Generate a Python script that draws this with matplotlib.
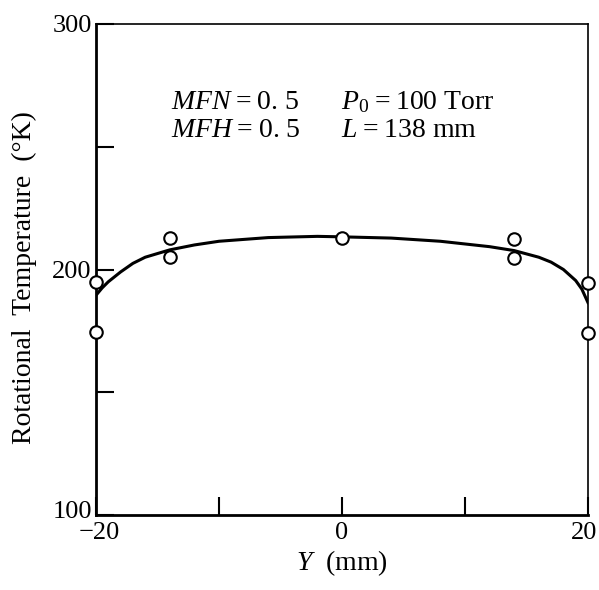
import numpy as np
import matplotlib.pyplot as plt
import matplotlib.transforms as mtransforms

# measured points (open circles)
y_pos = [-20, -20, -14, -14, 0, 14, 14, 20, 20]
t_rot = [195, 174.5, 213, 205, 213, 212.5, 204.5, 194.5, 174]

# fitted curve
curve_y = [-20, -19.5, -19, -18, -17, -16, -14, -12, -10, -6, -2, 0, 4, 8, 12, 14, 16, 17, 18, 19, 19.5, 20]
curve_t = [189.5, 192.5, 195, 199, 202.5, 205, 208, 210, 211.5, 213, 213.5, 213.3, 212.8, 211.5, 209.3, 207.7, 205, 203, 200, 195.5, 192, 186.5]

plt.rcParams['font.family'] = ['Liberation Serif', 'DejaVu Serif']
plt.rcParams['mathtext.fontset'] = 'custom'
plt.rcParams['mathtext.rm'] = 'Liberation Serif'
plt.rcParams['mathtext.it'] = 'Liberation Serif:italic'

fig = plt.figure(figsize=(5.99, 5.90), dpi=100)
ax = fig.add_axes([96/599, 1 - 515/590, (588-96)/599, (515-24)/590])

ax.plot(curve_y, curve_t, color='black', linewidth=2.2, zorder=2)
ax.plot(y_pos, t_rot, 'o', markersize=9, markerfacecolor='white',
        markeredgecolor='black', markeredgewidth=1.5, zorder=3, clip_on=False)

ax.set_xlim(-20, 20)
ax.set_ylim(100, 300)
ax.set_xticks([-20, -10, 0, 10, 20])
ax.set_xticklabels(['\u221220', '', '0', '', '20'])
ax.set_yticks([100, 150, 200, 250, 300])
ax.set_yticklabels(['100', '', '200', '', '300'])
ax.tick_params(direction='in', length=13, width=1.5, labelsize=19, pad=5)
ax.tick_params(axis='y', pad=3)

# nudge some tick labels like the original
def nudge(lab, dx, dy):
    lab.set_transform(lab.get_transform() + mtransforms.ScaledTranslation(dx/100, dy/100, fig.dpi_scale_trans))

nudge(ax.get_yticklabels()[0], 0, 6)
nudge(ax.get_xticklabels()[0], 3, 0)
nudge(ax.get_xticklabels()[4], -4, 0)

ax.spines['left'].set_linewidth(2)
ax.spines['bottom'].set_linewidth(2)
ax.spines['top'].set_linewidth(1.2)
ax.spines['right'].set_linewidth(1.2)

ax.set_ylabel('Rotational  Temperature  (\u00b0K)', fontsize=20)
ax.yaxis.set_label_coords(-0.12, 0.483)
ax.set_xlabel('$\\it{Y}$  (mm)', fontsize=20, labelpad=3)

ax.text(-13.9, 268, '$\\it{MFN}$\u2009=\u20090. 5', fontsize=20, va='center')
ax.text(-13.9, 256.5, '$\\it{MFH}$\u2009=\u20090. 5', fontsize=20, va='center')
ax.text(-0.1, 268, '$\\it{P}_{0}$\u2009=\u2009100 Torr', fontsize=20, va='center')
ax.text(-0.1, 256.5, '$\\it{L}$\u2009=\u2009138 mm', fontsize=20, va='center')

fig.savefig('out.png', dpi=100)
